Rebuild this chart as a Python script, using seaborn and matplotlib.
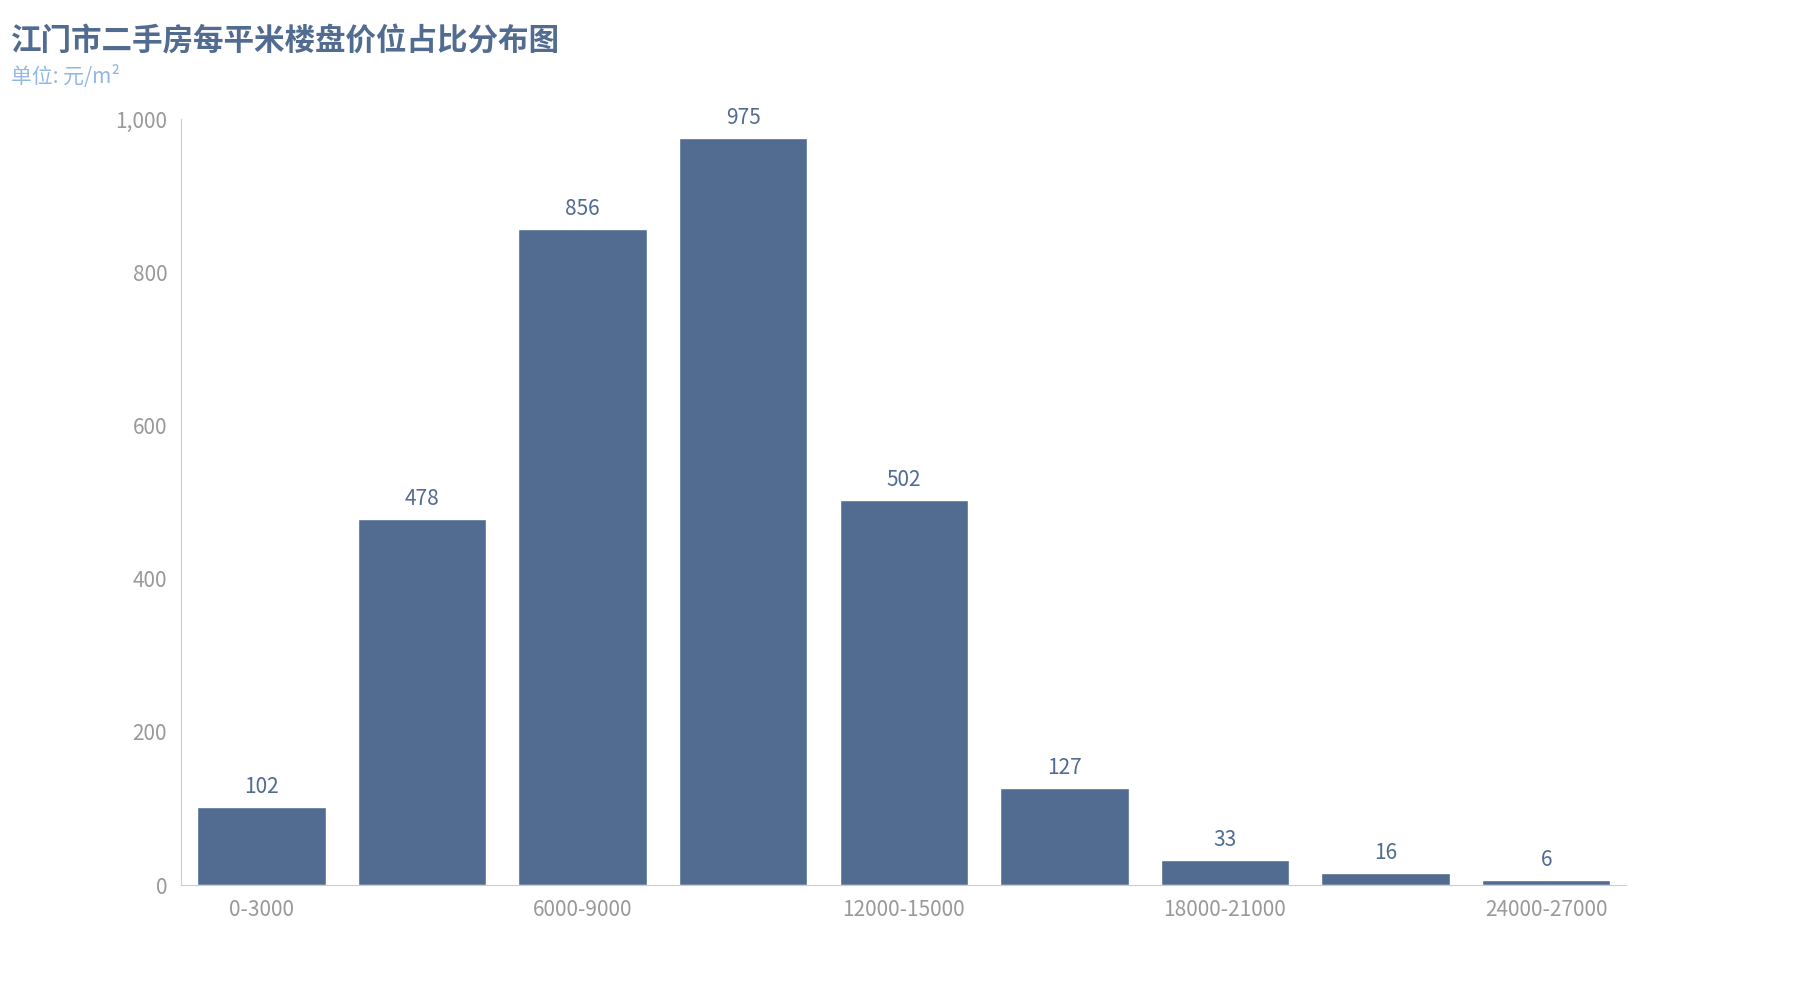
import matplotlib
matplotlib.use("Agg")
import matplotlib.pyplot as plt
import seaborn as sns
import pandas as pd

categories = ["0-3000", "3000-6000", "6000-9000", "9000-12000", "12000-15000",
              "15000-18000", "18000-21000", "21000-24000", "24000-27000"]
counts = [102, 478, 856, 975, 502, 127, 33, 16, 6]
yticks = [0, 200, 400, 600, 800, 1000]

sns.set_style("white")
plt.rcParams['font.family'] = ['Noto Sans CJK SC', 'DejaVu Sans']

df = pd.DataFrame({"range": categories, "count": counts})

fig = plt.figure(figsize=(18, 10), dpi=100)
ax = fig.add_axes([0.1006, 0.115, 0.803, 0.766])
sns.barplot(data=df, x="range", y="count", color="#516b91", saturation=1,
            width=0.8, ax=ax)

for i, v in enumerate(counts):
    ax.text(i, v + 12, str(v), ha="center", va="bottom", fontsize=15, color="#516b91")

ax.set_ylim(0, 1000)
ax.set_xlim(-0.5, len(categories) - 0.5)
ax.set_yticks(yticks)
ax.set_yticklabels([f"{t:,}" for t in yticks], fontsize=15, color="#999999")
ax.set_xticks(range(len(categories)))
ax.set_xticklabels([c if i % 2 == 0 else "" for i, c in enumerate(categories)],
                   fontsize=15, color="#999999")
ax.tick_params(axis="both", length=0, pad=10)
ax.set_xlabel("")
ax.set_ylabel("")
for s in ["top", "right"]:
    ax.spines[s].set_visible(False)
ax.spines["left"].set_color("#cccccc")
ax.spines["bottom"].set_color("#cccccc")

fig.text(0.006, 0.975, "江门市二手房每平米楼盘价位占比分布图", fontsize=22,
         fontweight="bold", color="#516b91", va="top")
fig.text(0.006, 0.935, "单位: 元/m²", fontsize=15, color="#93b7e3", va="top")

fig.savefig("out.png", dpi=100)
